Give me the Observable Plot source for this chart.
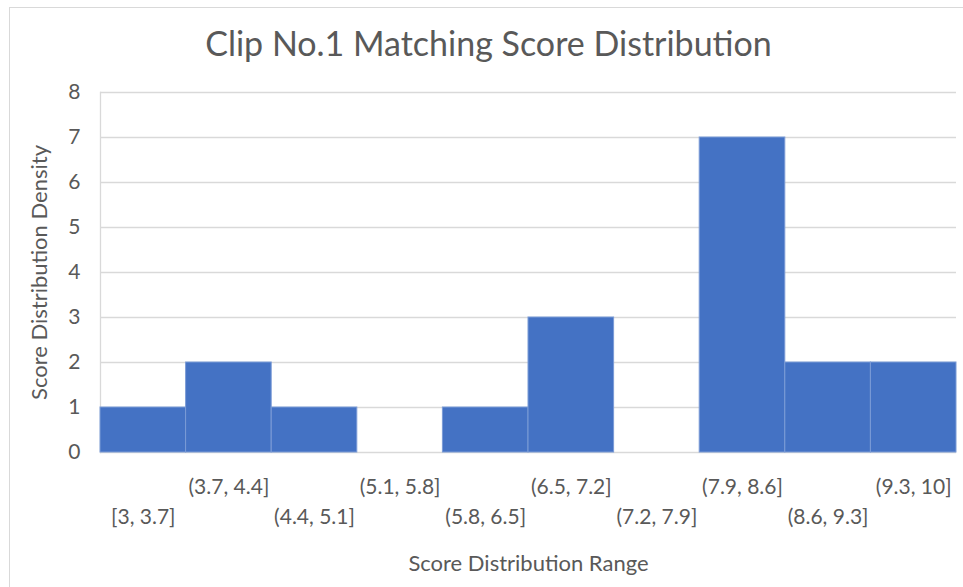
<!DOCTYPE html>
<html>
<head>
<meta charset="utf-8">
<script src="https://cdn.jsdelivr.net/npm/d3@7"></script>
<script src="https://cdn.jsdelivr.net/npm/@observablehq/plot@0.6"></script>
<style>
  html, body { margin: 0; padding: 0; background: #fff; }
  #wrap { position: relative; width: 963px; height: 587px; overflow: hidden; font-family: Lato, "Open Sans", sans-serif; }
  #border { position: absolute; left: 9px; top: 7px; width: 1000px; height: 1000px; border: 1px solid #d9d9d9; box-sizing: border-box; pointer-events: none; }
</style>
</head>
<body>
<div id="wrap"><div id="border"></div></div>
<script>
const title = "Clip No.1 Matching Score Distribution";
const xLabel = "Score Distribution Range";
const yLabel = "Score Distribution Density";
const ranges = ["[3, 3.7]", "(3.7, 4.4]", "(4.4, 5.1]", "(5.1, 5.8]", "(5.8, 6.5]", "(6.5, 7.2]", "(7.2, 7.9]", "(7.9, 8.6]", "(8.6, 9.3]", "(9.3, 10]"];
const counts = [1, 2, 1, 0, 1, 3, 0, 7, 2, 2];
const yTicks = [0, 1, 2, 3, 4, 5, 6, 7, 8];

const data = ranges.map((r, i) => ({range: r, count: counts[i]}));
const lowerTicks = ranges.filter((_, i) => i % 2 === 0);
const upperTicks = ranges.filter((_, i) => i % 2 === 1);

const chart = Plot.plot({
  width: 963,
  height: 587,
  marginLeft: 100,
  marginRight: 7,
  marginTop: 92,
  marginBottom: 135,
  style: {fontFamily: "Lato, 'Open Sans', sans-serif", background: "transparent", color: "#595959"},
  x: {type: "band", domain: ranges, padding: 0, round: false, label: null},
  y: {domain: [0, 8], label: null},
  marks: [
    Plot.gridY(yTicks, {stroke: "#d9d9d9", strokeOpacity: 1, strokeWidth: 1.3}),
    Plot.frame({anchor: "left", stroke: "#d9d9d9", strokeWidth: 1.3}),
    Plot.barY(data, {x: "range", y: "count", fill: "#4472C4", stroke: "#7b9bd6", strokeWidth: 1, inset: 0, filter: d => d.count > 0}),
    Plot.axisY(yTicks, {tickSize: 0, tickPadding: 20, fontSize: 21, fill: "#595959", label: null}),
    Plot.axisX(upperTicks, {tickSize: 0, tickPadding: 27, fontSize: 21, fill: "#595959", label: null}),
    Plot.axisX(lowerTicks, {tickSize: 0, tickPadding: 57, fontSize: 21, fill: "#595959", label: null}),
    Plot.text([yLabel], {frameAnchor: "left", dx: -61, rotate: -90, fontSize: 22, fill: "#595959", textAnchor: "middle", lineAnchor: "middle"}),
    Plot.text([xLabel], {frameAnchor: "bottom", dy: 111, fontSize: 22, fill: "#595959", textAnchor: "middle", lineAnchor: "middle"}),
    Plot.text([title], {frameAnchor: "top", dx: -40, dy: -47, fontSize: 34, fill: "#595959", textAnchor: "middle", lineAnchor: "middle"})
  ]
});
document.getElementById("wrap").prepend(chart);
</script>
</body>
</html>
